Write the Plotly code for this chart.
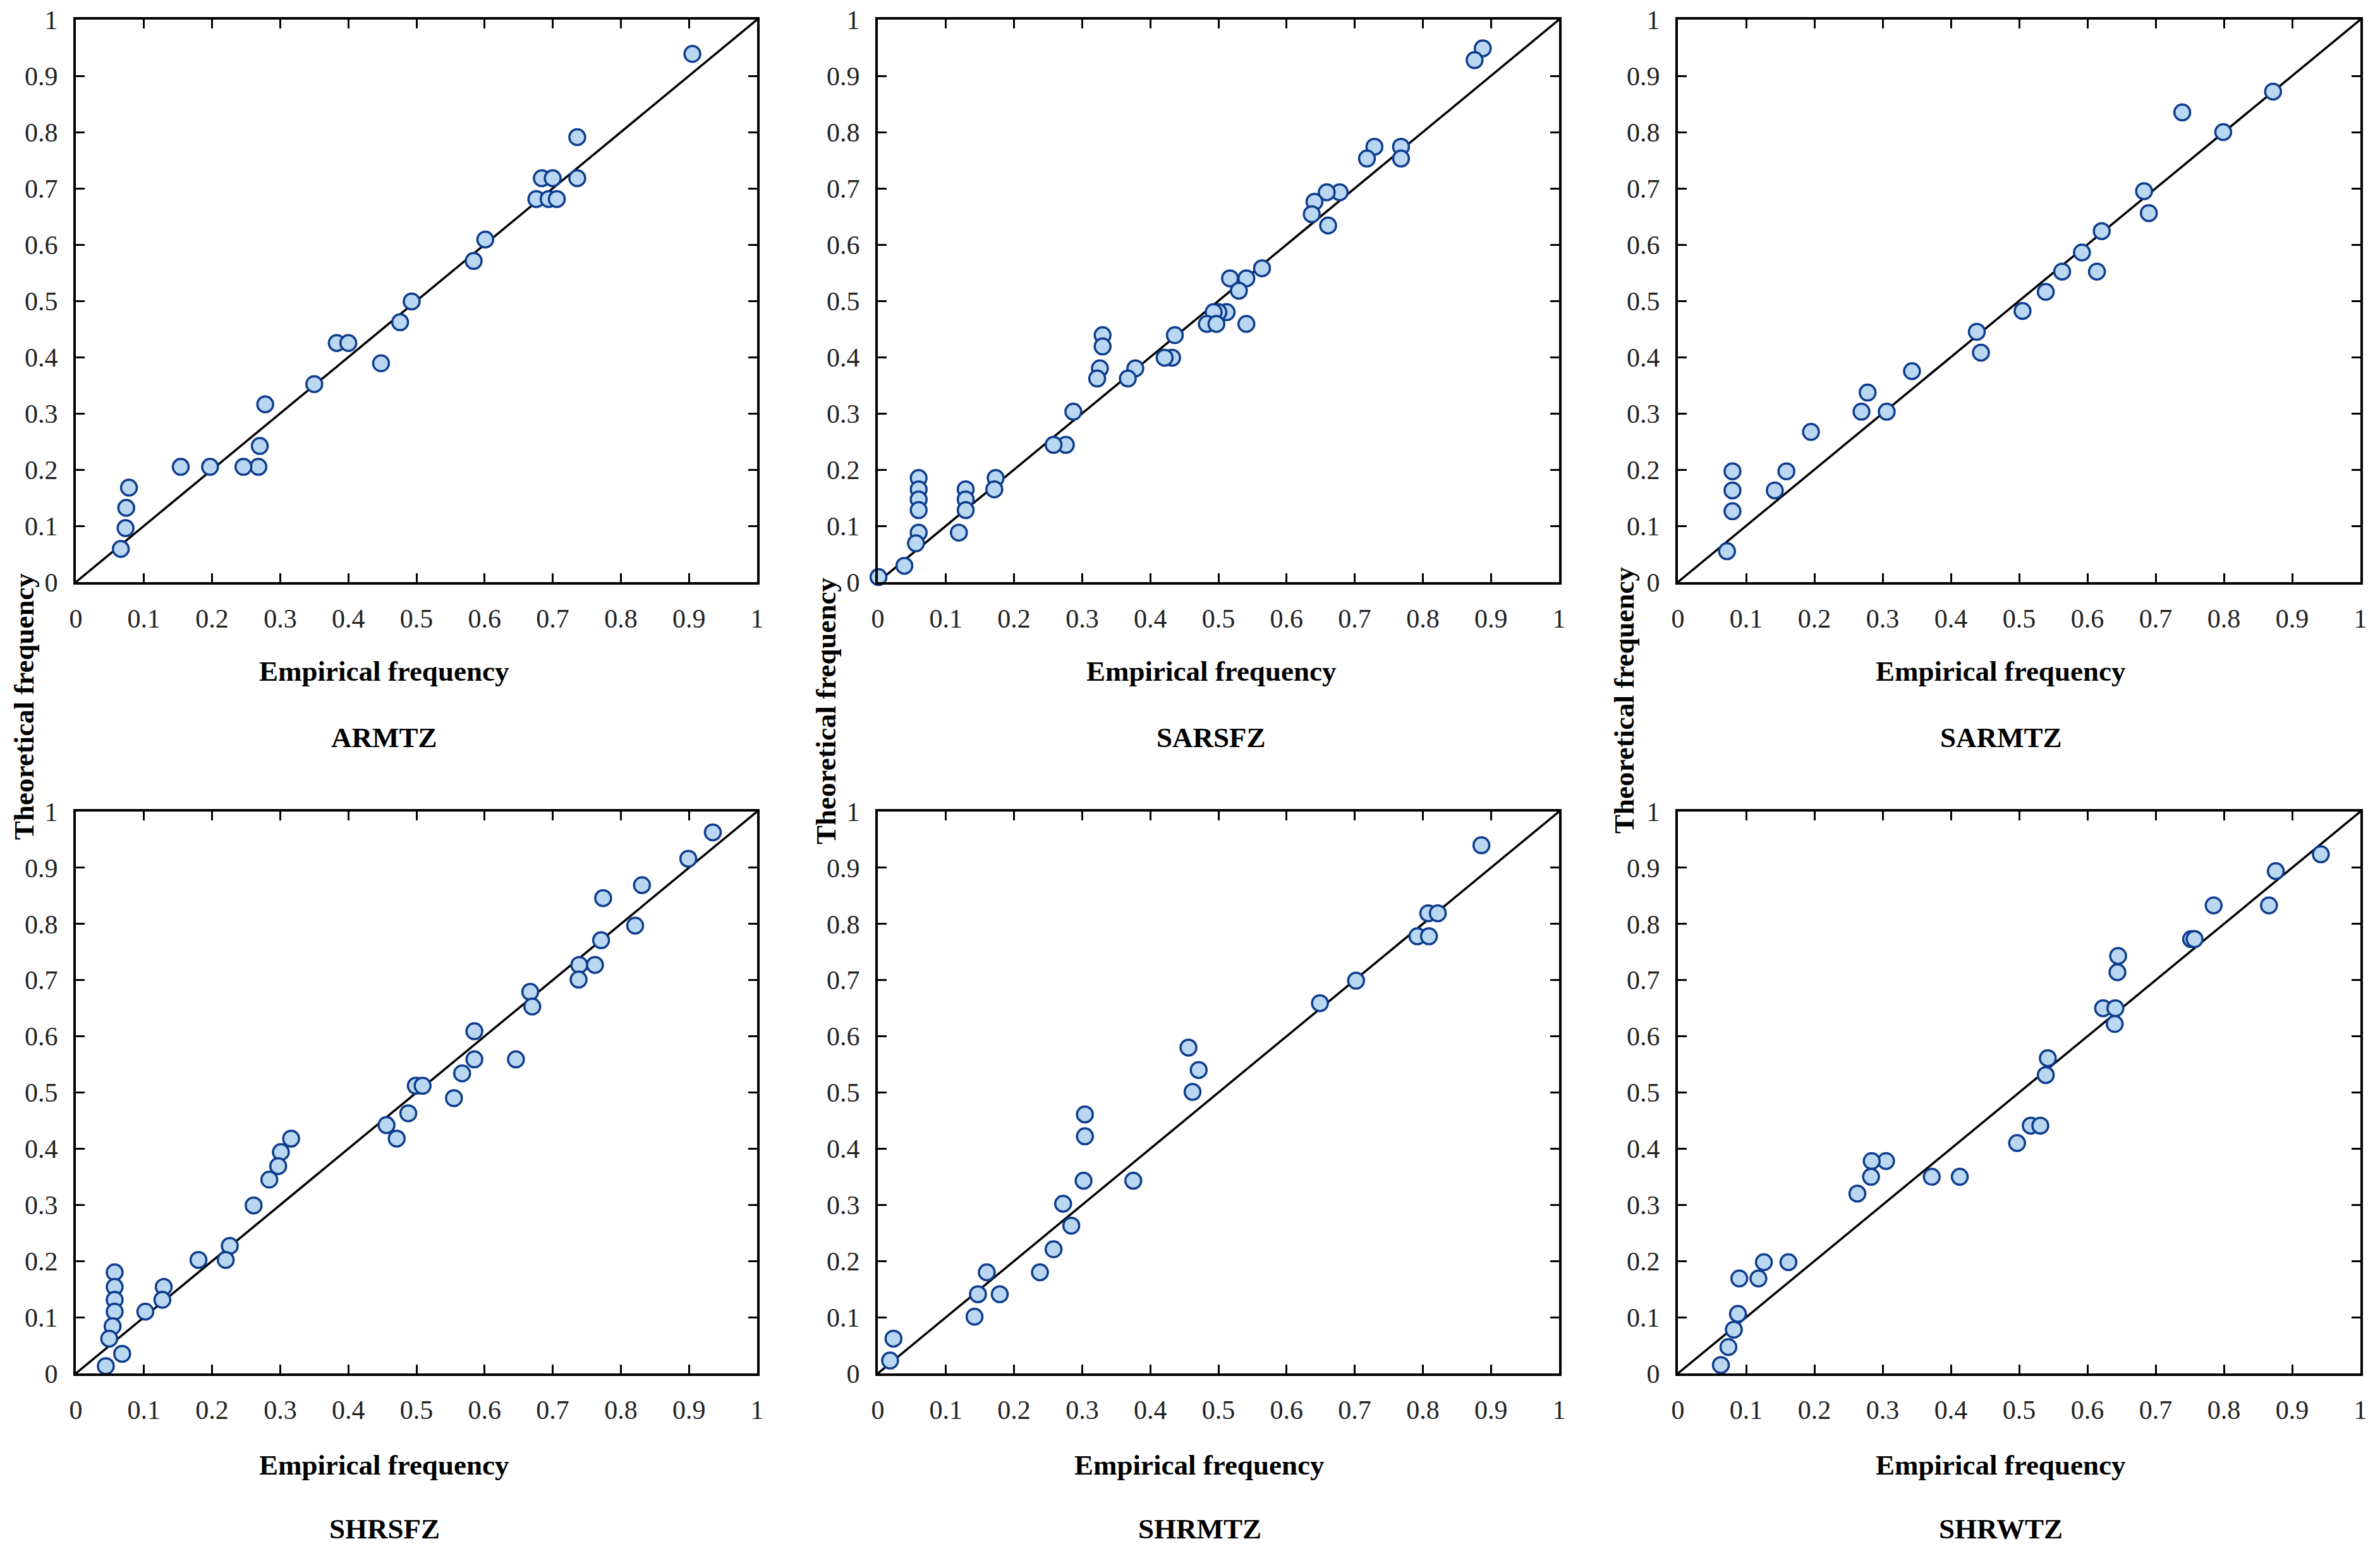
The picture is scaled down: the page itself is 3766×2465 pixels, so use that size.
import plotly.graph_objects as go

# ---------------- data ----------------
panel_names = ["ARMTZ", "SARSFZ", "SARMTZ", "SHRSFZ", "SHRMTZ", "SHRWTZ"]

tick_values = [0, 0.1, 0.2, 0.3, 0.4, 0.5, 0.6, 0.7, 0.8, 0.9, 1]
tick_labels = ["0", "0.1", "0.2", "0.3", "0.4", "0.5", "0.6", "0.7", "0.8", "0.9", "1"]

diag_x = [0, 1]
diag_y = [0, 1]

armtz_emp = [0.905, 0.736, 0.736, 0.684, 0.700, 0.676, 0.694, 0.706, 0.601, 0.584, 0.493, 0.476, 0.383,
             0.400, 0.448, 0.350, 0.278, 0.270, 0.268, 0.246, 0.197, 0.154, 0.078, 0.074, 0.073, 0.066]
armtz_theo = [0.939, 0.791, 0.718, 0.718, 0.718, 0.681, 0.681, 0.681, 0.609, 0.571, 0.499, 0.462, 0.425,
              0.425, 0.389, 0.352, 0.316, 0.242, 0.205, 0.205, 0.205, 0.205, 0.168, 0.132, 0.096, 0.059]

sarsfz_emp = [0.888, 0.876, 0.729, 0.718, 0.768, 0.768, 0.678, 0.659, 0.641, 0.637, 0.661, 0.564, 0.541,
              0.517, 0.530, 0.512, 0.500, 0.493, 0.483, 0.497, 0.541, 0.436, 0.432, 0.421, 0.378, 0.367,
              0.330, 0.330, 0.326, 0.322, 0.287, 0.276, 0.258, 0.173, 0.171, 0.129, 0.129, 0.129, 0.119,
              0.060, 0.060, 0.060, 0.060, 0.060, 0.056, 0.039, 0.001]
sarsfz_theo = [0.949, 0.928, 0.774, 0.753, 0.774, 0.753, 0.693, 0.693, 0.676, 0.654, 0.634, 0.558, 0.540,
               0.540, 0.518, 0.480, 0.480, 0.480, 0.459, 0.459, 0.459, 0.439, 0.399, 0.399, 0.380, 0.362,
               0.439, 0.419, 0.380, 0.362, 0.303, 0.244, 0.244, 0.185, 0.165, 0.165, 0.147, 0.128, 0.088,
               0.185, 0.165, 0.147, 0.128, 0.088, 0.069, 0.029, 0.009]

sarmtz_emp = [0.872, 0.739, 0.799, 0.683, 0.690, 0.621, 0.592, 0.563, 0.614, 0.539, 0.505, 0.438, 0.444,
              0.343, 0.278, 0.269, 0.306, 0.195, 0.159, 0.142, 0.080, 0.080, 0.080, 0.072]
sarmtz_theo = [0.872, 0.835, 0.800, 0.695, 0.656, 0.624, 0.586, 0.552, 0.552, 0.516, 0.482, 0.445, 0.408,
               0.375, 0.337, 0.303, 0.303, 0.267, 0.197, 0.163, 0.197, 0.163, 0.126, 0.055]

shrsfz_emp = [0.935, 0.899, 0.831, 0.774, 0.821, 0.771, 0.739, 0.762, 0.738, 0.667, 0.670, 0.585, 0.585,
              0.646, 0.567, 0.499, 0.509, 0.555, 0.488, 0.456, 0.471, 0.316, 0.301, 0.297, 0.284, 0.261,
              0.226, 0.220, 0.180, 0.129, 0.127, 0.102, 0.057, 0.057, 0.057, 0.057, 0.054, 0.049, 0.068,
              0.044]
shrsfz_theo = [0.963, 0.916, 0.869, 0.846, 0.797, 0.771, 0.727, 0.727, 0.701, 0.679, 0.653, 0.609, 0.559,
               0.559, 0.534, 0.512, 0.512, 0.490, 0.463, 0.442, 0.418, 0.418, 0.394, 0.369, 0.345, 0.299,
               0.227, 0.202, 0.202, 0.154, 0.131, 0.110, 0.180, 0.154, 0.131, 0.110, 0.084, 0.062, 0.035,
               0.013]

shrmtz_emp = [0.886, 0.808, 0.822, 0.792, 0.809, 0.702, 0.649, 0.456, 0.471, 0.462, 0.304, 0.304, 0.302,
              0.375, 0.272, 0.284, 0.258, 0.238, 0.160, 0.147, 0.179, 0.142, 0.023, 0.018]
shrmtz_theo = [0.940, 0.819, 0.819, 0.778, 0.778, 0.699, 0.659, 0.580, 0.540, 0.501, 0.461, 0.422, 0.343,
               0.343, 0.302, 0.263, 0.221, 0.180, 0.180, 0.141, 0.141, 0.101, 0.062, 0.023]

shrwtz_emp = [0.942, 0.876, 0.866, 0.785, 0.752, 0.757, 0.645, 0.644, 0.623, 0.641, 0.640, 0.542, 0.539,
              0.517, 0.531, 0.497, 0.413, 0.372, 0.305, 0.284, 0.283, 0.263, 0.162, 0.126, 0.118, 0.090,
              0.088, 0.082, 0.074, 0.063]
shrwtz_theo = [0.924, 0.894, 0.833, 0.833, 0.773, 0.773, 0.743, 0.714, 0.650, 0.650, 0.622, 0.561, 0.531,
               0.441, 0.441, 0.410, 0.350, 0.350, 0.378, 0.378, 0.350, 0.320, 0.198, 0.198, 0.169, 0.169,
               0.106, 0.078, 0.047, 0.015]

panel_emp = [armtz_emp, sarsfz_emp, sarmtz_emp, shrsfz_emp, shrmtz_emp, shrwtz_emp]
panel_theo = [armtz_theo, sarsfz_theo, sarmtz_theo, shrsfz_theo, shrmtz_theo, shrwtz_theo]

x_title = "Empirical frequency"
y_title = "Theoretical frequency"

# ---------------- layout geometry (pixels of 3766 x 2465 page) ----------------
W, H = 3766, 2465
col_px = [(120, 1198), (1389, 2467), (2655, 3735)]
row_px = [(31, 921), (1284, 2173)]
xtitle_cx = [[608, 1917, 3166], [608, 1898, 3166]]
xtitle_cy = [1062, 2318]
ptitle_cy = [1167, 2419]
ytitle_cx = [38, 1307, 2570]
ytitle_cy = [1118, 1125, 1108]

SERIF = "Liberation Serif"
fig = go.Figure()
layout = dict(
    width=W, height=H, margin=dict(l=0, r=0, t=0, b=0, autoexpand=False),
    paper_bgcolor="white", plot_bgcolor="white", showlegend=False,
    font=dict(family=SERIF, color="#111111"),
)
annotations = []

for i, name in enumerate(panel_names):
    r, c = divmod(i, 3)
    n = i + 1
    xa = "xaxis" if n == 1 else f"xaxis{n}"
    ya = "yaxis" if n == 1 else f"yaxis{n}"
    xr = "x" if n == 1 else f"x{n}"
    yr = "y" if n == 1 else f"y{n}"
    common = dict(
        range=[0, 1], tickvals=tick_values, ticktext=tick_labels, automargin=False,
        showgrid=False, zeroline=False, showline=True, linecolor="black", linewidth=4,
        mirror="ticks", ticks="inside", ticklen=14, tickwidth=3, tickcolor="black",
        tickfont=dict(family=SERIF, size=42, color="#222222"),
    )
    layout[xa] = dict(common, domain=[col_px[c][0] / W, col_px[c][1] / W], anchor=yr,
                      ticklabelstandoff=18)
    layout[ya] = dict(common, domain=[1 - row_px[r][1] / H, 1 - row_px[r][0] / H], anchor=xr,
                      ticklabelstandoff=16)

    fig.add_trace(go.Scatter(x=diag_x, y=diag_y, mode="lines", xaxis=xr, yaxis=yr,
                             line=dict(color="black", width=3.5), hoverinfo="skip"))
    fig.add_trace(go.Scatter(x=panel_emp[i], y=panel_theo[i], mode="markers", xaxis=xr, yaxis=yr,
                             cliponaxis=False,
                             marker=dict(symbol="circle", size=25, color="#b9d7f1",
                                         line=dict(color="#0d3b8e", width=3.5))))

    annotations.append(dict(text=f"<b>{x_title}</b>", xref="paper", yref="paper",
                            x=xtitle_cx[r][c] / W, y=1 - xtitle_cy[r] / H,
                            xanchor="center", yanchor="middle", showarrow=False,
                            font=dict(family=SERIF, size=45, color="black")))
    annotations.append(dict(text=f"<b>{name}</b>", xref="paper", yref="paper",
                            x=xtitle_cx[r][c] / W, y=1 - ptitle_cy[r] / H,
                            xanchor="center", yanchor="middle", showarrow=False,
                            font=dict(family=SERIF, size=45, color="black")))

for c in range(3):
    annotations.append(dict(text=f"<b>{y_title}</b>", xref="paper", yref="paper",
                            x=ytitle_cx[c] / W, y=1 - ytitle_cy[c] / H, textangle=-90,
                            xanchor="center", yanchor="middle", showarrow=False,
                            font=dict(family=SERIF, size=45, color="black")))

layout["annotations"] = annotations
fig.update_layout(**layout)
fig.write_html("out.html",
               config={"displayModeBar": False},
               post_script="document.body.style.margin='0px';document.body.style.padding='0px';"
                           "document.documentElement.style.overflow='hidden';")
